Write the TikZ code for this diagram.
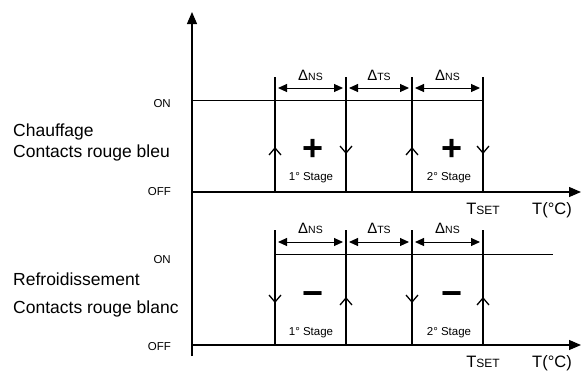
\documentclass[tikz,border=0pt]{standalone}
\usepackage{fontspec}
\setmainfont{Liberation Sans}
\usetikzlibrary{arrows.meta}

\tikzset{
  axis/.style={line width=1.2pt,-{Triangle[length=12pt,width=10pt]}},
  level/.style={line width=1pt},
  stage/.style={line width=1.2pt},
  barb/.style={line width=1.3pt,-{Straight Barb[length=7pt,width=12pt]}},
  dim/.style={line width=1pt,{Triangle[length=9pt,width=8pt]}-{Triangle[length=9pt,width=8pt]},
    shorten <=3pt,shorten >=3pt},
  sign/.style={inner sep=0pt,font=\fontsize{36}{36}\selectfont\bfseries},
  small/.style={inner sep=0pt,font=\fontsize{11.5}{12}\selectfont},
  big/.style={inner sep=0pt,anchor=base west,font=\fontsize{17.5}{18}\selectfont},
}
\newcommand{\dlt}[1]{{\fontsize{15}{15}\selectfont Δ}{\fontsize{10.5}{10}\selectfont #1}}
\newcommand{\tset}{{\fontsize{16.5}{16}\selectfont T}{\fontsize{12}{12}\selectfont SET}}

\begin{document}
\begin{tikzpicture}[x=1pt,y=-1pt]
  \useasboundingbox (0,0) rectangle (581,370);
  % axes
  \coordinate (ytop) at (192,12);
  \coordinate (ybot) at (192,356);
  \coordinate (o1) at (192,192);
  \coordinate (x1) at (581,192);
  \coordinate (o2) at (192,345);
  \coordinate (x2) at (581,345);
  \draw[axis] (ybot) -- (ytop);
  \draw[axis] (o1) -- (x1);
  \draw[axis] (o2) -- (x2);
  % stage lines
  \foreach \n/\x in {1/275,2/346,3/412,4/483}{
    \coordinate (a\n) at (\x,77);
    \coordinate (b\n) at (\x,192);
    \coordinate (c\n) at (\x,230);
    \coordinate (d\n) at (\x,345);
    \draw[stage] (a\n) -- (b\n);
    \draw[stage] (c\n) -- (d\n);
  }
  % ON levels
  \coordinate (on1) at (192,100);
  \coordinate (on1e) at (483,100);
  \coordinate (on2) at (275,254);
  \coordinate (on2x) at (483,254);
  \coordinate (on2e) at (553,254);
  \draw[level] (on1) -- (on1e);
  \draw[level] (on2) -- (on2e);
  \draw[line width=1.5pt] (on1e) -- (b4);
  \draw[line width=1.5pt] (on2x) -- (d4);
  % switching arrows
  \foreach \n/\x in {1/275,3/412}{
    \coordinate (p\n) at (\x,147);
    \coordinate (q\n) at (\x,303);
    \draw[barb] (b\n) -- (p\n);
    \draw[barb] (c\n) -- (q\n);
  }
  \foreach \n/\x in {2/346,4/483}{
    \coordinate (p\n) at (\x,154);
    \coordinate (q\n) at (\x,297);
    \draw[barb] (a\n) -- (p\n);
    \draw[barb] (d\n) -- (q\n);
  }
  % differentials
  \foreach \i/\j/\t in {1/2/NS,2/3/TS,3/4/NS}{
    \path (a\i) -- (a\j) coordinate[pos=0.5] (m\i);
    \coordinate (r\i) at ([yshift=-11pt]a\i);
    \coordinate (s\i) at ([yshift=-11pt]a\j);
    \coordinate (u\i) at ([yshift=-12pt]c\i);
    \coordinate (w\i) at ([yshift=-12pt]c\j);
    \draw[dim] (r\i) -- (s\i);
    \draw[dim] (u\i) -- (w\i);
    \node[inner sep=0pt,anchor=base] (lt\i) at ([yshift=-3pt]m\i) {\dlt{\t}};
    \node[inner sep=0pt,anchor=base] (lb\i) at ([yshift=-156pt]m\i) {\dlt{\t}};
  }
  % signs and stages
  \node[sign] (plus1) at (313,150) {+};
  \node[sign] (plus2) at (452,150) {+};
  \node[sign] (minus1) at (313,295) {\vphantom{+}−};
  \node[sign] (minus2) at (452,295) {\vphantom{+}−};
  \node[small] (st1) at (311,178) {1° Stage};
  \node[small] (st2) at (449,178) {2° Stage};
  \node[small] (st3) at (311,333) {1° Stage};
  \node[small] (st4) at (449,333) {2° Stage};
  % axis labels
  \node[inner sep=0pt,anchor=base] (ts1) at (483,214) {\tset};
  \node[inner sep=0pt,anchor=base] (ts2) at (483,367) {\tset};
  \node[inner sep=0pt,anchor=base,font=\fontsize{16.5}{16}\selectfont] (tc1) at (552,214) {T(°C)};
  \node[inner sep=0pt,anchor=base,font=\fontsize{16.5}{16}\selectfont] (tc2) at (552,367) {T(°C)};
  \node[small,anchor=east] (on1l) at (171,104) {ON};
  \node[small,anchor=east] (off1l) at (171,192) {OFF};
  \node[small,anchor=east] (on2l) at (171,260) {ON};
  \node[small,anchor=east] (off2l) at (171,347) {OFF};
  \node[big] (hot) at (13,136) {Chauffage};
  \node[big] (hotc) at (13,157) {Contacts rouge bleu};
  \node[big] (cold) at (13,285) {Refroidissement};
  \node[big] (coldc) at (13,313) {Contacts rouge blanc};
\end{tikzpicture}
\end{document}
